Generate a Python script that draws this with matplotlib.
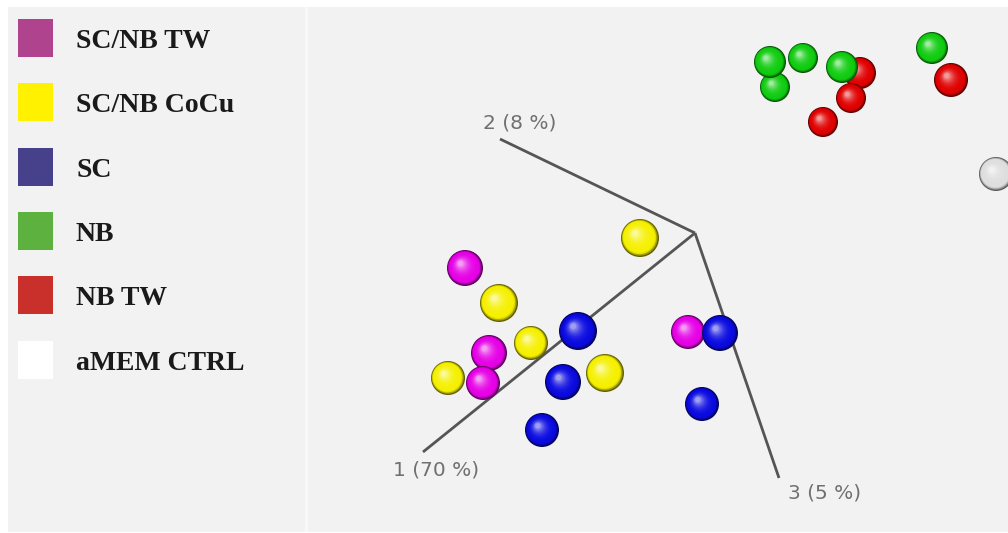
import numpy as np
import matplotlib
matplotlib.use("Agg")
import matplotlib.pyplot as plt
from matplotlib.patches import Circle, Rectangle
from matplotlib.colors import to_rgb

# legend groups
groups = ["SC/NB TW", "SC/NB CoCu", "SC", "NB", "NB TW", "aMEM CTRL"]
legend_colors = ["#b0438e", "#fff100", "#46418a", "#5cb13f", "#c9302c", "#ffffff"]
sphere_colors = {"SC/NB TW": "#e600e6", "SC/NB CoCu": "#f5f000", "SC": "#0a0ae0",
                 "NB": "#10cc10", "NB TW": "#e00000", "aMEM CTRL": "#dedede"}

# projected PCA scores (screen projection), drawn back to front
pc_x = [775, 770, 803, 860, 842, 851, 823, 932, 951, 996,
        465, 640, 499, 531, 489, 448, 483, 578, 605, 563, 542, 688, 720, 702]
pc_y = [87, 62, 58, 73, 67, 98, 122, 48, 80, 174,
        268, 238, 303, 343, 353, 378, 383, 331, 373, 382, 430, 332, 333, 404]
pc_depth = [15, 16, 15, 16, 16, 15, 15, 16, 17, 17,
            18, 19, 19, 17, 18, 17, 17, 19, 19, 18, 17, 17, 18, 17]
pc_group = ["NB", "NB", "NB", "NB TW", "NB", "NB TW", "NB TW", "NB", "NB TW", "aMEM CTRL",
            "SC/NB TW", "SC/NB CoCu", "SC/NB CoCu", "SC/NB CoCu", "SC/NB TW", "SC/NB CoCu",
            "SC/NB TW", "SC", "SC/NB CoCu", "SC", "SC", "SC/NB TW", "SC", "SC"]

# PC axes (origin and ends) with explained variance
axis_origin = (695, 233)
axis_ends = [(423, 452), (500, 139), (779, 478)]
axis_labels = ["1 (70 %)", "2 (8 %)", "3 (5 %)"]
label_pos = [(393, 470), (483, 123), (788, 493)]


def sphere(ax, x, y, r, color, z):
    base = np.array(to_rgb(color))
    dark = base * 0.4
    n = 16
    for k in range(n):
        t = k / (n - 1)
        rr = r * (1 - 0.85 * t)
        cx = x - 0.25 * r * t
        cy = y - 0.25 * r * t
        if t < 0.15:
            c = dark + (base - dark) * (t / 0.15)
        else:
            c = base + (1 - base) * 0.6 * ((t - 0.15) / 0.85) ** 2.5
        ax.add_patch(Circle((cx, cy), rr, color=np.clip(c, 0, 1), lw=0, zorder=z))


fig = plt.figure(figsize=(10.08, 5.33), dpi=100)
ax = fig.add_axes([0, 0, 1, 1])
ax.set_xlim(0, 1008)
ax.set_ylim(533, 0)
ax.axis("off")

# panels
ax.add_patch(Rectangle((8, 7), 297, 525, color="#f2f2f2", lw=0, zorder=0))
ax.add_patch(Rectangle((305, 7), 3, 525, color="#f8f8f8", lw=0, zorder=0))
ax.add_patch(Rectangle((308, 7), 700, 525, color="#f2f2f2", lw=0, zorder=0))

# legend
for i, (g, c) in enumerate(zip(groups, legend_colors)):
    yc = 38 + i * 64.3
    ax.add_patch(Rectangle((18, yc - 19), 35, 38, color=c, lw=0, zorder=2))
    ax.text(76, yc + 10, g, fontsize=20, fontweight="bold", family="Liberation Serif",
            color="#1a1a1a", va="baseline", ha="left", zorder=3)

# PC axes
for (ex, ey), lab, (lx, ly) in zip(axis_ends, axis_labels, label_pos):
    ax.plot([axis_origin[0], ex], [axis_origin[1], ey], color="#555555", lw=2.0,
            solid_capstyle="butt", zorder=1)
    ax.text(lx, ly, lab, fontsize=14.5, family="DejaVu Sans", color="#707070",
            ha="left", va="center", zorder=1)

# samples
for i, (x, y, r, g) in enumerate(zip(pc_x, pc_y, pc_depth, pc_group)):
    sphere(ax, x, y, r, sphere_colors[g], 5 + i)

fig.savefig("out.png", dpi=100)
